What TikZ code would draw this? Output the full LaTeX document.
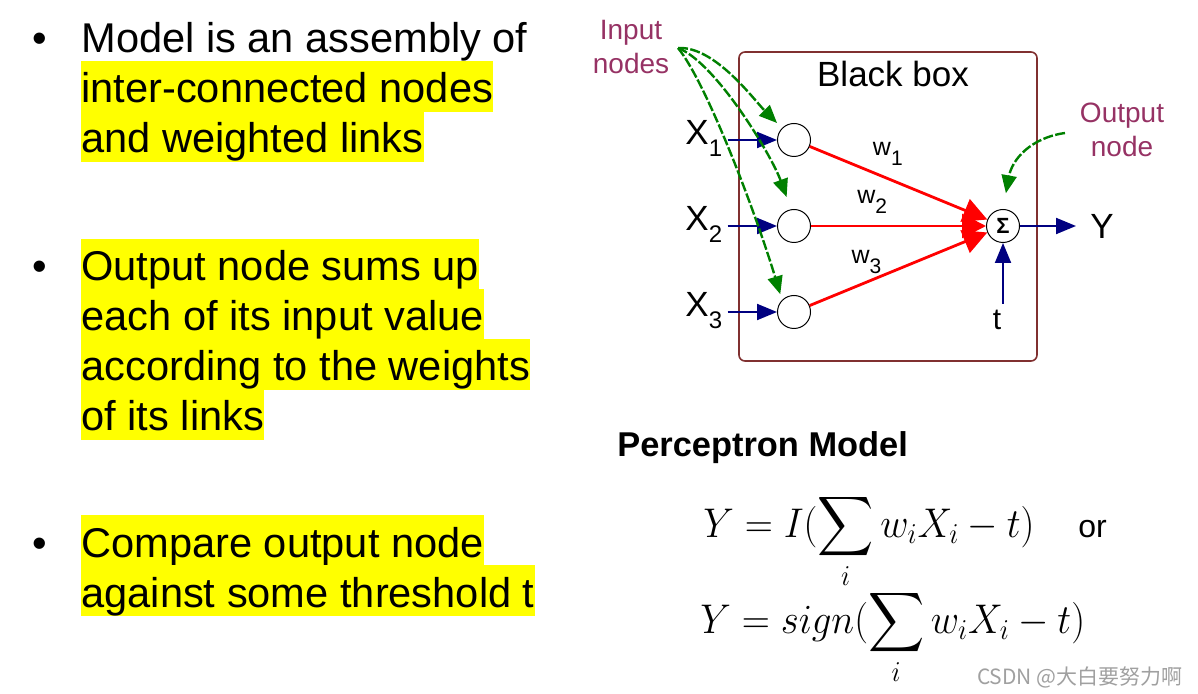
\documentclass[tikz,border=0pt]{standalone}
\usepackage{fontspec}
\setmainfont{Liberation Sans}
\newfontfamily\cjk{Noto Sans CJK SC}
\usepackage{amsmath}
\usetikzlibrary{arrows.meta,positioning,calc}
\definecolor{hly}{RGB}{255,255,0}
\definecolor{plum}{RGB}{150,50,100}
\definecolor{boxred}{RGB}{128,48,48}
\definecolor{navy}{RGB}{0,0,128}
\definecolor{dgreen}{RGB}{0,128,0}
\definecolor{wmgray}{RGB}{160,160,160}
\newcommand\xsub[1]{\raisebox{-6pt}{\fontsize{12}{12}\selectfont#1}}
\newcommand\wsub[1]{\raisebox{-5pt}{\fontsize{10.5}{10.5}\selectfont#1}}

\begin{document}
\begin{tikzpicture}[x=0.5pt,y=-0.5pt,
  txt/.style={anchor=base west,inner sep=0pt,font=\fontsize{20.8}{24}\selectfont},
  hl/.style={txt,fill=hly,text height=21pt,text depth=4.5pt},
  lab/.style={text=plum,align=center,font=\fontsize{14}{17}\selectfont},
  bbox/.style={draw=boxred,line width=0.8pt,rounded corners=3pt,minimum width=149pt,minimum height=154.5pt},
  inn/.style={circle,draw,line width=0.5pt,minimum size=16.5pt,inner sep=0pt},
  xin/.style={anchor=base west,inner sep=0pt,inner xsep=2.5pt,font=\fontsize{17.5}{20}\selectfont},
  wl/.style={text=black,inner sep=2pt,font=\fontsize{12.5}{14}\selectfont},
  fm/.style={anchor=base west,inner sep=0pt,font=\fontsize{20.74}{24}\selectfont},
  bar/.style={navy,line width=1pt,-{Triangle[length=10pt,width=8pt]}},
  rar/.style={red,line width=1.4pt,-{Triangle[length=12pt,width=12pt]}},
  gar/.style={dgreen,line width=1.2pt,dash pattern=on 5pt off 1.2pt,-{Triangle[length=9pt,width=7.5pt]}}]
\useasboundingbox (0,0) rectangle (1198,694);
\node[txt] (d1) at (32,53) {•};
\node[txt] (l1) at (81,53) {Model is an assembly of};
\node[hl] (l2) at (81,103) {inter-connected nodes\ };
\node[hl] (l3) at (81,153) {and weighted links};
\node[txt] (d2) at (32,281) {•};
\node[hl] (l4) at (81,281) {Output node sums up\ };
\node[hl] (l5) at (81,331) {each of its input value\ };
\node[hl] (l6) at (81,381) {according to the weights\ };
\node[hl] (l7) at (81,431) {of its links};
\node[txt] (d3) at (32,557) {•};
\node[hl] (l8) at (81,557) {Compare output node\ };
\node[hl] (l9) at (81,607) {against some threshold t};
\node[bbox] (bb) at (888,206.5) {};
\node[anchor=base,font=\fontsize{17.5}{20}\selectfont] (bbl) at (893,87) {Black box};
\node[inn] (i1) at (794,140) {};
\node[inn] (i2) at (794,226) {};
\node[inn] (i3) at (794,312) {};
\node[inn,font=\fontsize{11}{11}\selectfont\bfseries] (sum) at (1003,226) {Σ};
\node[xin] (x1) at (680,145) {X\xsub{1}};
\node[xin] (x2) at (680,231) {X\xsub{2}};
\node[xin] (x3) at (680,317) {X\xsub{3}};
\draw[bar] (x1.east |- i1) -- (i1);
\draw[bar] (x2.east |- i2) -- (i2);
\draw[bar] (x3.east |- i3) -- (i3);
\draw[rar] (i1) -- node[wl,above=4pt,pos=.44]{w\wsub{1}} (sum);
\draw[rar] (i3) -- node[wl,above=1.5pt,pos=.32]{w\wsub{3}} (sum);
\draw[rar] (i2) -- node[wl,above=3.5pt,pos=.35]{w\wsub{2}} (sum);
\node[anchor=west,inner sep=0pt,inner xsep=7pt,font=\fontsize{17.5}{20}\selectfont] (yo) at (1076,226) {Y};
\draw[bar] (sum) -- (yo);
\node[inner sep=3pt,font=\fontsize{15}{18}\selectfont] (th) at (997,320) {t};
\draw[bar] (th.north -| sum) -- (sum);
\node[lab] (inl) at (631,47) {Input\\nodes};
\node[lab] (oul) at (1122,130) {Output\\node};
\coordinate (ip) at (678,48);
\coordinate (op) at (1065,133);
\draw[gar,shorten >=3.5pt] (ip) .. controls (715,46) and (754,100) .. (i1.north west);
\draw[gar,shorten >=6.5pt] (ip) .. controls (715,62) and (771,154) .. (i2.100);
\draw[gar,shorten >=3pt] (ip) .. controls (708,85) and (758,220) .. (i3.north west);
\draw[gar,shorten >=8pt] (op) .. controls (1030,138) and (1012,160) .. (sum.north);
\node[anchor=base west,inner sep=0pt,font=\fontsize{17.2}{20}\selectfont\bfseries] (pm) at (617,457) {Perceptron Model};
\node[fm] (f1) at (703,537) {\scalebox{0.94}[1]{$\displaystyle Y=I(\sum_i w_iX_i-t)$}};
\node[anchor=base west,inner sep=0pt,font=\fontsize{16}{19}\selectfont] (or) at (1078,537) {or};
\node[fm] (f2) at (700,633) {\scalebox{0.94}[1]{$\displaystyle Y=sign(\sum_i w_iX_i-t)$}};
\node[anchor=base east,inner sep=0pt,font=\cjk\fontsize{10.5}{12}\selectfont,text=wmgray] (wm) at (1183,684) {CSDN @大白要努力啊};
\end{tikzpicture}
\end{document}
